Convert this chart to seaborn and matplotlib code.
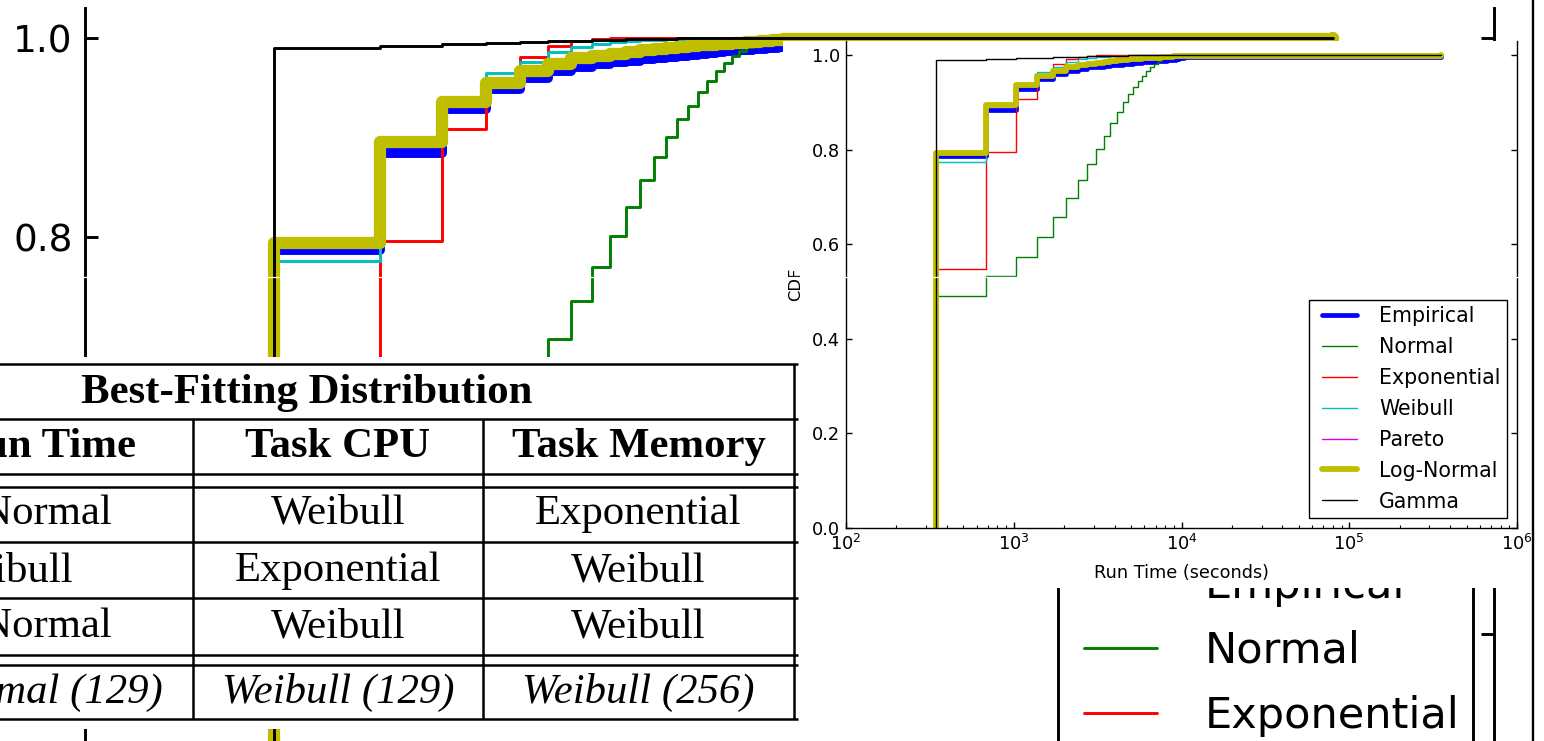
import matplotlib
matplotlib.use("Agg")
import matplotlib.pyplot as plt
from matplotlib.patches import Rectangle
from matplotlib.ticker import FormatStrFormatter, FuncFormatter, NullLocator, NullFormatter
import seaborn as sns

# ------------------------------------------------------------------ data
# empirical run-time points (seconds); first point repeated so the CDF rises from 0
run_time_s = [343, 343, 686, 1029, 1372, 1715, 2058, 2401, 2744, 3087, 3430,
              3773, 4116, 4459, 4802, 5145, 5488, 5831, 6174, 6517, 6860,
              7203, 7546, 7889, 8232, 8575, 8918, 9261, 9604, 9947, 10290, 350000]

cdf_empirical = [0.0, 0.786, 0.884, 0.928, 0.949, 0.960, 0.967, 0.971, 0.974, 0.976, 0.977,
                 0.979, 0.980, 0.981, 0.982, 0.983, 0.984, 0.985, 0.986, 0.9865, 0.987,
                 0.9875, 0.988, 0.9885, 0.989, 0.9895, 0.990, 0.991, 0.993, 0.995, 0.997, 1.0]
cdf_normal = [0.0, 0.490, 0.532, 0.573, 0.615, 0.657, 0.697, 0.735, 0.769, 0.801, 0.830,
              0.857, 0.880, 0.900, 0.918, 0.932, 0.946, 0.957, 0.967, 0.975, 0.982,
              0.987, 0.991, 0.994, 0.996, 0.997, 0.998, 0.999, 0.9995, 1.0, 1.0, 1.0]
cdf_exponential = [0.0, 0.548, 0.796, 0.908, 0.956, 0.981, 0.992, 0.997, 0.999, 1.0, 1.0,
                   1.0, 1.0, 1.0, 1.0, 1.0, 1.0, 1.0, 1.0, 1.0, 1.0,
                   1.0, 1.0, 1.0, 1.0, 1.0, 1.0, 1.0, 1.0, 1.0, 1.0, 1.0]
cdf_weibull = [0.0, 0.775, 0.893, 0.941, 0.965, 0.976, 0.986, 0.991, 0.994, 0.996, 0.997,
               0.998, 0.998, 0.999, 0.999, 1.0, 1.0, 1.0, 1.0, 1.0, 1.0,
               1.0, 1.0, 1.0, 1.0, 1.0, 1.0, 1.0, 1.0, 1.0, 1.0, 1.0]
cdf_lognormal = [0.0, 0.794, 0.895, 0.936, 0.955, 0.967, 0.974, 0.9795, 0.982, 0.984, 0.986,
                 0.988, 0.989, 0.990, 0.991, 0.992, 0.9925, 0.993, 0.9935, 0.994, 0.9945,
                 0.995, 0.9955, 0.996, 0.9965, 0.997, 0.9975, 0.998, 0.9985, 0.9985, 0.999, 1.0]
cdf_gamma = [0.0, 0.990, 0.992, 0.994, 0.995, 0.996, 0.997, 0.997, 0.998, 0.998, 0.999,
             0.999, 0.999, 0.999, 1.0, 1.0, 1.0, 1.0, 1.0, 1.0, 1.0,
             1.0, 1.0, 1.0, 1.0, 1.0, 1.0, 1.0, 1.0, 1.0, 1.0, 1.0]

series_labels = ["Empirical", "Normal", "Exponential", "Weibull", "Pareto", "Log-Normal", "Gamma"]
series_values = [cdf_empirical, cdf_normal, cdf_exponential, cdf_weibull, None, cdf_lognormal, cdf_gamma]

cdf_ticks = [0.0, 0.2, 0.4, 0.6, 0.8, 1.0]
x_label = "Run Time (seconds)"
y_label = "CDF"

tab_title = "Best-Fitting Distribution"
tab_header = ["Job Run Time", "Task CPU", "Task Memory"]
tab_rows = [["Log-Normal", "Weibull", "Exponential"],
            ["Weibull", "Exponential", "Weibull"],
            ["Log-Normal", "Weibull", "Weibull"]]
tab_summary = ["Log-Normal (129)", "Weibull (129)", "Weibull (256)"]

# ------------------------------------------------------------------ style
series_colors = ["#0000ff", "#008000", "#ff0000", "#00bfbf", "#e000e0", "#bfbf00", "#000000"]
series_lw = [3.4, 1.0, 1.0, 1.0, 1.0, 4.2, 1.0]

sns.set_theme(style="ticks", color_codes=False,
              rc={"axes.edgecolor": "black", "xtick.color": "black", "ytick.color": "black",
                  "text.color": "black", "axes.labelcolor": "black"})
plt.rcParams["font.family"] = ["DejaVu Sans"]
plt.rcParams["mathtext.fontset"] = "dejavusans"
plt.rcParams["mathtext.default"] = "regular"

W, H = 1544, 741
fig = plt.figure(figsize=(W / 100, H / 100), dpi=100)
fig.patch.set_facecolor("white")


def px_rect(left, top, right, bottom):
    return [left / W, 1 - bottom / H, (right - left) / W, (bottom - top) / H]


def draw_panel(ax, s):
    for lab, vals, col, lw in zip(series_labels, series_values, series_colors, series_lw):
        if vals is None:
            ax.plot([], [], color=col, lw=lw * s, label=lab)
            continue
        sns.lineplot(x=run_time_s, y=vals, ax=ax, color=col, linewidth=lw * s,
                     drawstyle="steps-post", estimator=None, sort=False,
                     label=lab, legend=False)
    ax.set_xscale("log")
    ax.set_xlim(1e2, 1e6)
    ax.set_ylim(0, 1.03)
    ax.set_yticks(cdf_ticks)
    ax.yaxis.set_major_formatter(FormatStrFormatter("%.1f"))
    ax.yaxis.set_minor_locator(NullLocator())
    ax.tick_params(axis="both", which="major", direction="in", length=4.3 * s,
                   width=1.0 * s, labelsize=12.8 * s, pad=4.3 * s,
                   left=True, right=True, bottom=True, top=False)
    ax.tick_params(axis="x", which="minor", direction="in", length=2.2 * s,
                   width=0.8 * s, bottom=True, top=False)
    for sp in ["left", "right", "bottom"]:
        ax.spines[sp].set_linewidth(1.0 * s)
        ax.spines[sp].set_color("black")
    ax.spines["top"].set_visible(False)
    ax.set_xlabel(x_label, fontsize=12.7 * s, labelpad=7.5 * s)
    ax.set_ylabel(y_label, fontsize=11.8 * s, labelpad=6 * s)
    handles, labels = ax.get_legend_handles_labels()
    leg = ax.legend(handles, labels, loc="lower right", fontsize=14.8 * s, numpoints=2,
                    borderpad=0.3, labelspacing=0.53, handlelength=2.3,
                    handletextpad=0.8, borderaxespad=0.5, fancybox=False,
                    framealpha=1, edgecolor="black")
    leg.get_frame().set_linewidth(1.0 * s)


# ---------------------------------------------------------- background (zoomed copy)
S = 2.1
in_left, in_top, in_right, in_bottom = 846, 41, 1517, 528
one_in = in_bottom - (in_bottom - in_top) / 1.03
bg_left = 85
bg_top = 38 - (one_in - in_top) * S
bg_right = bg_left + (in_right - in_left) * S
bg_bottom = bg_top + (in_bottom - in_top) * S
ax_bg = fig.add_axes(px_rect(bg_left, bg_top, bg_right, bg_bottom), zorder=0)
draw_panel(ax_bg, S)
# parts of the zoomed copy that fall off the canvas or under the table carry no text
ax_bg.yaxis.set_major_formatter(FuncFormatter(lambda v, p: f"{v:.1f}" if v > 0.7 else ""))
ax_bg.xaxis.set_major_formatter(NullFormatter())
ax_bg.xaxis.set_minor_formatter(NullFormatter())
ax_bg.set_xlabel("")
ax_bg.set_ylabel("")

# ---------------------------------------------------------- overlay: inset paper + table
ax_over = fig.add_axes([0, 0, 1, 1], zorder=1)
ax_over.set_xlim(0, W)
ax_over.set_ylim(H, 0)
ax_over.axis("off")
ax_over.patch.set_visible(False)
ax_over.add_patch(Rectangle((783, in_top), 1532 - 783, 588 - in_top,
                            facecolor="white", edgecolor="none", zorder=1))
ax_over.add_patch(Rectangle((0, 357), 803, 372, facecolor="white", edgecolor="none", zorder=2))

tab_col_edges = [-181, 193, 483, 794]
tab_rules = [364, 419, 474, 487, 542, 598, 655, 665, 719]
tab_lw = 1.8
ax_over.hlines(tab_rules, tab_col_edges[0], tab_col_edges[-1] + 4, colors="black",
               lw=tab_lw, zorder=3)
ax_over.vlines(tab_col_edges[-1], tab_rules[0], tab_rules[-1], colors="black", lw=tab_lw, zorder=3)
ax_over.vlines(tab_col_edges[1:-1], tab_rules[1], tab_rules[-1], colors="black", lw=tab_lw, zorder=3)

col_centers = [(a + b) / 2 for a, b in zip(tab_col_edges[:-1], tab_col_edges[1:])]
serif = ["Liberation Serif", "DejaVu Serif"]
fs_tab = 30.8
ax_over.text((tab_col_edges[0] + tab_col_edges[-1]) / 2, 403, tab_title, ha="center",
             va="baseline", fontsize=fs_tab, fontweight="bold", family=serif, zorder=4)
for c, t in zip(col_centers, tab_header):
    ax_over.text(c, 457, t, ha="center", va="baseline", fontsize=fs_tab,
                 fontweight="bold", family=serif, zorder=4)
for base, row in zip([524, 581, 637], tab_rows):
    for c, t in zip(col_centers, row):
        ax_over.text(c, base, t, ha="center", va="baseline", fontsize=fs_tab,
                     family=serif, zorder=4)
for c, t in zip(col_centers, tab_summary):
    ax_over.text(c, 703, t, ha="center", va="baseline", fontsize=fs_tab,
                 style="italic", family=serif, zorder=4)

# ---------------------------------------------------------- inset chart
ax_in = fig.add_axes(px_rect(in_left, in_top, in_right, in_bottom), zorder=2)
ax_in.patch.set_visible(False)
draw_panel(ax_in, 1.0)

# ---------------------------------------------------------- collage seams
ax_top = fig.add_axes([0, 0, 1, 1], zorder=3)
ax_top.set_xlim(0, W)
ax_top.set_ylim(H, 0)
ax_top.axis("off")
ax_top.patch.set_visible(False)
ax_top.axhline(277, color="white", lw=0.9)
ax_top.axvline(1533, color="black", lw=1.7)

fig.savefig("out.png", dpi=100, facecolor="white")
